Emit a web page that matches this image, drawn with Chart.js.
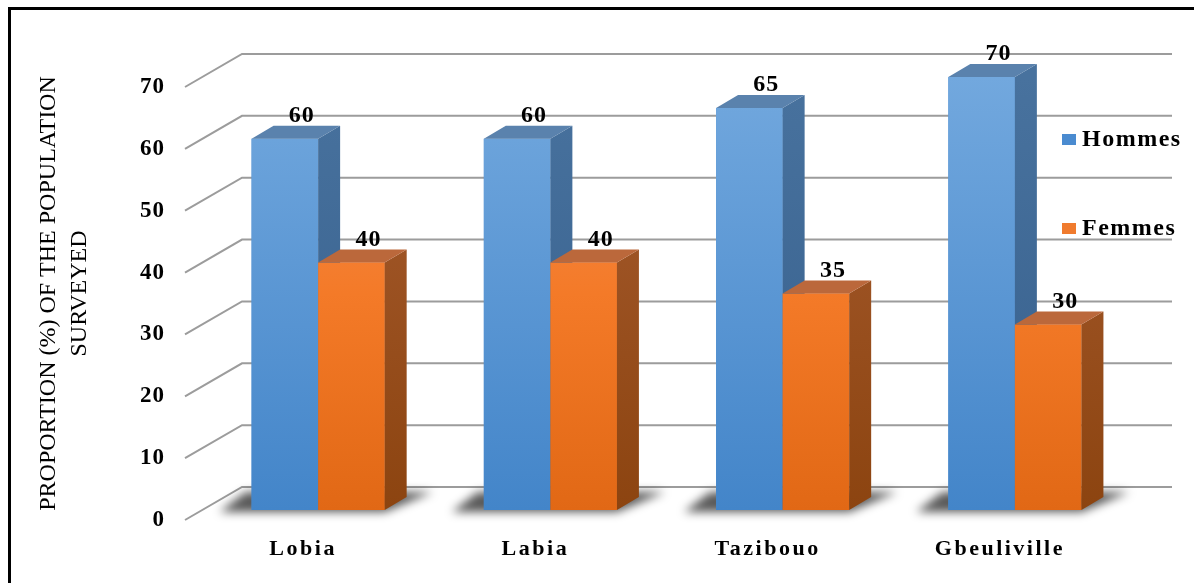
<!DOCTYPE html>
<html>
<head>
<meta charset="utf-8">
<script src="https://cdn.jsdelivr.net/npm/chart.js@4.4.0/dist/chart.umd.min.js"></script>
<style>
  html, body { margin: 0; padding: 0; background: #fff; }
  #wrap { width: 1194px; height: 583px; }
</style>
</head>
<body>
<div id="wrap"><canvas id="myChart" width="1194" height="583"></canvas></div>
<script>
// DATA
const villages = ["Lobia", "Labia", "Tazibouo", "Gbeuliville"];
const hommes = [60, 60, 65, 70];
const femmes = [40, 40, 35, 30];
const seriesNames = ["Hommes", "Femmes"];
const axisTitle = ["PROPORTION (%) OF THE POPULATION", "SURVEYED"];

// 3D LOOK
const serif = "'Liberation Serif', 'Times New Roman', serif";
const depth = { dx: 22, dy: -13 };
const floorFront = { dx: -17, dy: 10 };
const wallBack = { dx: 40, dy: -23 };

const colors = [
  { front: ["#72a8de", "#4385c9"], side: ["#48729e", "#365f8c"], top: "#5a82ad", legend: "#4a8bd0" },
  { front: ["#f38f57", "#f47a28", "#e16815"], side: ["#a85d31", "#8c4410"], top: "#bb683b", legend: "#f07b2e" }
];

function vGrad(ctx, y0, y1, stops) {
  const g = ctx.createLinearGradient(0, y0, 0, y1);
  stops.forEach((c, i) => g.addColorStop(i / (stops.length - 1), c));
  return g;
}

function poly(ctx, pts, fill) {
  ctx.beginPath();
  ctx.moveTo(pts[0][0], pts[0][1]);
  for (let i = 1; i < pts.length; i++) ctx.lineTo(pts[i][0], pts[i][1]);
  ctx.closePath();
  ctx.fillStyle = fill;
  ctx.fill();
}

// frame + background
const framePlugin = {
  id: "frame",
  beforeDraw(chart) {
    const ctx = chart.ctx;
    ctx.save();
    ctx.fillStyle = "#fff";
    ctx.fillRect(0, 0, chart.width, chart.height);
    ctx.strokeStyle = "#000";
    ctx.lineWidth = 3;
    ctx.strokeRect(9.5, 8.5, chart.width + 20, chart.height + 20);
    ctx.restore();
  }
};

// walls, gridlines and floor shadows
const gridPlugin = {
  id: "grid3d",
  beforeDatasetsDraw(chart) {
    const ctx = chart.ctx;
    const y = chart.scales.y;
    const area = chart.chartArea;
    ctx.save();
    ctx.strokeStyle = "#9c9c9c";
    ctx.lineWidth = 2;
    y.ticks.forEach(t => {
      const Y = y.getPixelForValue(t.value);
      ctx.beginPath();
      ctx.moveTo(area.left + floorFront.dx, Y + floorFront.dy);
      ctx.lineTo(area.left + wallBack.dx, Y + wallBack.dy);
      ctx.lineTo(area.right + 41, Y + wallBack.dy);
      ctx.stroke();
    });
    // shadows under each group
    const m0 = chart.getDatasetMeta(0), m1 = chart.getDatasetMeta(1);
    const by = y.getPixelForValue(0);
    ctx.filter = "blur(5px)";
    m0.data.forEach((el, i) => {
      const gl = el.x - el.width / 2;
      const o = m1.data[i];
      const gr = o.x + o.width / 2;
      poly(ctx, [[gl - 32, by + 2], [gr, by + 2], [gr + 48, by - 18], [gl - 6, by - 18]], "rgba(0,0,0,0.65)");
    });
    ctx.filter = "none";
    ctx.restore();
  }
};

// bar faces (front, side, top) drawn group by group
const barsPlugin = {
  id: "bars3d",
  afterDatasetsDraw(chart) {
    const ctx = chart.ctx;
    const area = chart.chartArea;
    ctx.save();
    villages.forEach((v, i) => {
      chart.data.datasets.forEach((ds, d) => {
        const el = chart.getDatasetMeta(d).data[i];
        const c = colors[d];
        const l = el.x - el.width / 2, r = el.x + el.width / 2;
        const t = el.y, b = el.base;
        poly(ctx, [[l, t], [r, t], [r, b], [l, b]], vGrad(ctx, area.top, area.bottom, c.front));
        poly(ctx, [[r, t], [r + depth.dx, t + depth.dy], [r + depth.dx, b + depth.dy], [r, b]],
          vGrad(ctx, area.top, area.bottom, c.side));
        poly(ctx, [[l, t], [l + depth.dx, t + depth.dy], [r + depth.dx, t + depth.dy], [r, t]], c.top);
      });
    });
    // value labels
    ctx.fillStyle = "#000";
    ctx.font = "bold 24px " + serif;
    ctx.textAlign = "center";
    ctx.textBaseline = "middle";
    if ("letterSpacing" in ctx) ctx.letterSpacing = "1px";
    chart.data.datasets.forEach((ds, d) => {
      chart.getDatasetMeta(d).data.forEach((el, i) => {
        ctx.fillText(String(ds.data[i]), el.x + 17, el.y - 23);
      });
    });
    ctx.restore();
  }
};

// legend on the right
const legendPlugin = {
  id: "legend3d",
  afterDraw(chart) {
    const ctx = chart.ctx;
    const ys = [139, 228];
    ctx.save();
    ctx.font = "bold 24px " + serif;
    ctx.textBaseline = "middle";
    ctx.textAlign = "left";
    if ("letterSpacing" in ctx) ctx.letterSpacing = "1.5px";
    chart.data.datasets.forEach((ds, d) => {
      ctx.fillStyle = colors[d].legend;
      ctx.fillRect(1062, ys[d] - 5, 14, 11);
      ctx.fillStyle = "#000";
      ctx.fillText(ds.label, 1082, ys[d] + 1);
    });
    ctx.restore();
  }
};

// wider tick text, like the stretched original
function spacedLabels(scale, spacing) {
  const orig = scale.drawLabels;
  scale.drawLabels = function (a) {
    this.ctx.save();
    if ("letterSpacing" in this.ctx) this.ctx.letterSpacing = spacing;
    orig.call(this, a);
    this.ctx.restore();
  };
}

const ctx = document.getElementById("myChart").getContext("2d");
const myChart = new Chart(ctx, {
  type: "bar",
  data: {
    labels: villages,
    datasets: [
      { label: seriesNames[0], data: hommes, backgroundColor: colors[0].legend },
      { label: seriesNames[1], data: femmes, backgroundColor: colors[1].legend }
    ]
  },
  options: {
    responsive: false,
    animation: false,
    devicePixelRatio: 1,
    categoryPercentage: 0.573,
    barPercentage: 1.0,
    layout: { padding: { top: 77, right: 63, left: 0, bottom: 0 } },
    plugins: { legend: { display: false }, tooltip: { enabled: false } },
    scales: {
      x: {
        grid: { display: false, drawTicks: false },
        border: { display: false },
        ticks: {
          padding: 26,
          labelOffset: -15,
          color: "#000",
          font: { family: serif, size: 22, weight: "bold" }
        },
        afterFit: s => { s.height = 73; }
      },
      y: {
        min: 0,
        max: 70,
        grid: { display: false, drawTicks: false },
        border: { display: false },
        ticks: {
          stepSize: 10,
          padding: 37,
          labelOffset: 10,
          color: "#000",
          font: { family: serif, size: 23, weight: "bold" }
        },
        title: {
          display: true,
          text: axisTitle,
          color: "#000",
          font: { family: serif, size: 24, lineHeight: 1.3 },
          padding: { top: 33, bottom: 0 }
        },
        afterFit: s => { s.width = 202; }
      }
    }
  },
  plugins: [framePlugin, gridPlugin, barsPlugin, legendPlugin]
});
spacedLabels(myChart.scales.x, "2.5px");
spacedLabels(myChart.scales.y, "1px");
myChart.draw();
</script>
</body>
</html>
